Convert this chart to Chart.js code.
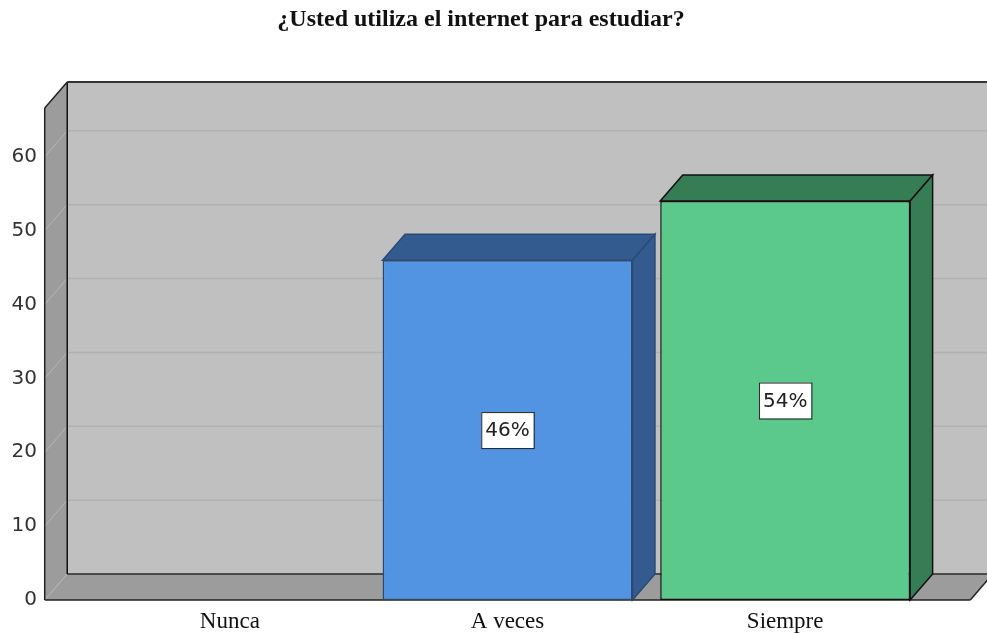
<!DOCTYPE html>
<html>
<head>
<meta charset="utf-8">
<script src="https://cdn.jsdelivr.net/npm/chart.js@4/dist/chart.umd.min.js"></script>
<style>
  body { margin: 0; background: #fff; }
</style>
</head>
<body>
<canvas id="grafico" width="987" height="634"></canvas>
<script>
// datos
const categorias = ["Nunca", "A veces", "Siempre"];
const valores = [0, 46, 54];
const etiquetas = ["0%", "46%", "54%"];
const marcasY = [0, 10, 20, 30, 40, 50, 60];

const colorFrente = ["#5294e2", "#5294e2", "#5cc98c"];
const colorSombra = ["#345b8f", "#345b8f", "#367c55"];
const colorBorde = ["#2a4a75", "#2a4a75", "#111111"];

// profundidad del efecto 3D
const DX = 22.5, DY = 26;

function poligono(ctx, pts, relleno, trazo, grosor) {
  ctx.beginPath();
  ctx.moveTo(pts[0][0], pts[0][1]);
  for (let i = 1; i < pts.length; i++) ctx.lineTo(pts[i][0], pts[i][1]);
  ctx.closePath();
  if (relleno) { ctx.fillStyle = relleno; ctx.fill(); }
  if (trazo) { ctx.strokeStyle = trazo; ctx.lineWidth = grosor || 1; ctx.stroke(); }
}

function linea(ctx, x1, y1, x2, y2, color, grosor) {
  ctx.beginPath();
  ctx.moveTo(x1, y1);
  ctx.lineTo(x2, y2);
  ctx.strokeStyle = color;
  ctx.lineWidth = grosor;
  ctx.stroke();
}

const caja3d = {
  id: 'caja3d',
  beforeDatasetsDraw(chart) {
    const { ctx, chartArea: a, scales: { x, y } } = chart;
    const ancho = x.getPixelForValue(1) - x.getPixelForValue(0);
    const m = ancho / 6;
    const L = a.left - m, R = a.right + m, T = a.top, B = a.bottom;
    ctx.save();
    // pared del fondo
    poligono(ctx, [[L + DX, T - DY], [R + DX, T - DY], [R + DX, B - DY], [L + DX, B - DY]], '#c0c0c0');
    // pared izquierda y piso
    poligono(ctx, [[L, T], [L + DX, T - DY], [L + DX, B - DY], [L, B]], '#9c9c9c');
    poligono(ctx, [[L, B], [L + DX, B - DY], [R + DX, B - DY], [R, B]], '#9c9c9c');
    // lineas de cuadricula
    marcasY.forEach(v => {
      if (v === 0) return;
      const py = y.getPixelForValue(v);
      linea(ctx, L + DX, py - DY, R + DX, py - DY, '#b1b1b1', 1.5);
      linea(ctx, L, py, L + DX, py - DY, '#b6b6b6', 1);
    });
    linea(ctx, L, B, L + DX, B - DY, '#b6b6b6', 1);
    // bordes
    linea(ctx, L + DX, B - DY, R + DX, B - DY, '#2a2a2a', 1.5);
    linea(ctx, L + DX, T - DY, L + DX, B - DY, '#111', 1.5);
    linea(ctx, L + DX, T - DY, R + DX, T - DY, '#333', 2);
    linea(ctx, L, T, L + DX, T - DY, '#222', 1.5);
    linea(ctx, L, T, L, B, '#222', 1.5);
    linea(ctx, L, B, R, B, '#222', 1.5);
    linea(ctx, R, B, R + DX, B - DY, '#222', 1.5);
    ctx.restore();
  },
  afterDatasetsDraw(chart) {
    const { ctx } = chart;
    const meta = chart.getDatasetMeta(0);
    ctx.save();
    meta.data.forEach((barra, i) => {
      if (!valores[i]) return;
      const p = barra.getProps(['x', 'y', 'base', 'width'], true);
      const izq = p.x - p.width / 2, der = p.x + p.width / 2;
      // cara superior y lateral
      poligono(ctx, [[izq, p.y], [izq + DX, p.y - DY], [der + DX, p.y - DY], [der, p.y]], colorSombra[i], colorBorde[i], 1.5);
      poligono(ctx, [[der, p.y], [der + DX, p.y - DY], [der + DX, p.base - DY], [der, p.base]], colorSombra[i], colorBorde[i], 1.5);
      // etiqueta de porcentaje
      ctx.font = '20px "DejaVu Sans"';
      const w = ctx.measureText(etiquetas[i]).width + 8;
      const h = 36;
      const cy = (p.y + p.base) / 2;
      ctx.fillStyle = '#ffffff';
      ctx.fillRect(p.x - w / 2, cy - h / 2, w, h);
      ctx.strokeStyle = '#222';
      ctx.lineWidth = 1;
      ctx.strokeRect(p.x - w / 2 + 0.5, cy - h / 2 + 0.5, w, h);
      ctx.fillStyle = '#222';
      ctx.textAlign = 'center';
      ctx.textBaseline = 'middle';
      ctx.fillText(etiquetas[i], p.x, cy + 1);
    });
    ctx.restore();
  }
};

new Chart(document.getElementById("grafico"), {
  type: 'bar',
  data: {
    labels: categorias,
    datasets: [{
      label: "Frecuencia",
      data: valores,
      backgroundColor: colorFrente,
      borderColor: colorBorde,
      borderWidth: 1.5,
      borderSkipped: false,
      categoryPercentage: 0.9,
      barPercentage: 1
    }]
  },
  options: {
    responsive: false,
    animation: false,
    devicePixelRatio: 1,
    layout: { padding: { left: 0, right: 25, top: 0, bottom: 0 } },
    plugins: {
      legend: { display: false },
      tooltip: { enabled: false },
      title: {
        display: true,
        text: '¿Usted utiliza el internet para estudiar?',
        color: '#111',
        font: { family: 'Liberation Serif', size: 24, weight: 'bold' },
        padding: { top: 5, bottom: 74.2 }
      }
    },
    scales: {
      x: {
        grid: { display: false, drawTicks: false },
        border: { display: false },
        ticks: {
          color: '#111',
          font: { family: 'Liberation Serif', size: 23 },
          padding: 8
        },
        afterFit: ax => { ax.height = 34; }
      },
      y: {
        min: 0,
        max: 66.6,
        grid: { display: false, drawTicks: false },
        border: { display: false },
        ticks: {
          stepSize: 10,
          includeBounds: false,
          color: '#333',
          font: { family: 'DejaVu Sans', size: 20 },
          padding: 54
        },
        afterFit: ax => {
          ax.width = 91;
          ax.paddingTop = 0;
          ax.paddingBottom = 12;
        }
      },
      // espacio a la derecha para la profundidad de la caja
      margenDerecho: {
        type: 'linear',
        position: 'right',
        grid: { display: false, drawTicks: false },
        border: { display: false },
        ticks: { display: false },
        afterFit: ax => { ax.width = 38; }
      }
    }
  },
  plugins: [caja3d]
});
</script>
</body>
</html>
